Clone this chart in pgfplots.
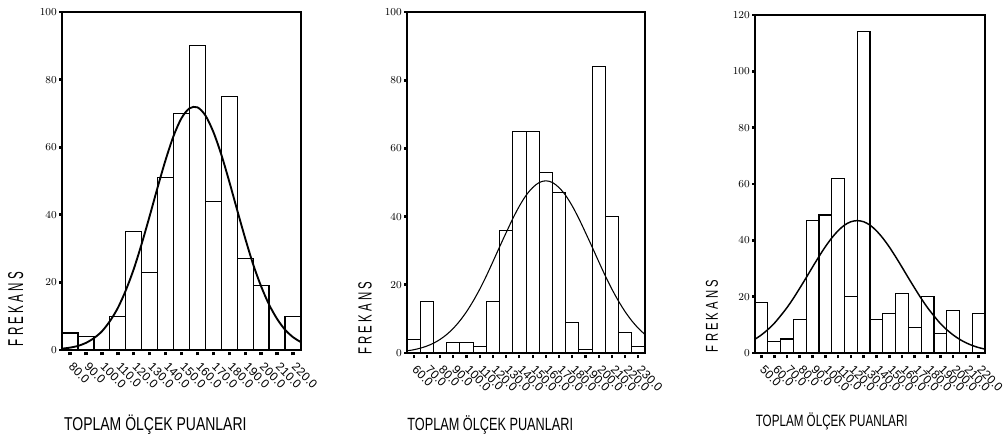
\documentclass[border=0pt]{standalone}
\usepackage{pgfplots}
\pgfplotsset{compat=1.18}
\usepackage{fontspec}
\setmainfont{Liberation Sans}
\usepackage{graphicx}

% one reference pixel = 0.75pt
\pgfplotsset{
  histo/.style={
    scale only axis, anchor=south west,
    ymin=0, tick pos=left, tick align=outside,
    major tick length=2.2pt,
    ytick style={line width=2.2pt, black},
    xtick style={line width=2.6pt, black, yshift=-1.8pt},
    yticklabel style={font=\fontsize{8.5}{8.5}\selectfont, inner sep=1.5pt},
    xticklabel style={font=\fontsize{9}{9}\selectfont, xshift=3pt, yshift=-6.5pt,
      rotate=-45, anchor=north west, inner sep=0pt},
    clip=false,
  },
  bars/.style={ybar, bar width=10, bar shift=0pt, draw=black, fill=none},
}

\begin{document}
\begin{tikzpicture}
\useasboundingbox (0,0) rectangle (753.75pt,327pt);

% ---- panel 1
\begin{axis}[histo,
  at={(46.5pt,64.5pt)}, width=179.25pt, height=253.5pt,
  xmin=75, xmax=225, ymax=100,
  ytick={0,20,40,60,80,100},
  xtick={80,90,...,220},
  xticklabels={80.0,90.0,100.0,110.0,120.0,130.0,140.0,150.0,160.0,170.0,180.0,190.0,200.0,210.0,220.0},
  axis line style={line width=1.3pt},
]
\addplot[bars, line width=1pt] coordinates {
(80,5) (90,4) (100,0) (110,10) (120,35) (130,23) (140,51) (150,70)
(160,90) (170,44) (180,75) (190,27) (200,19) (210,0) (220,10)};
\addplot[black, line width=1.4pt, smooth] coordinates {
(75,0.4) (80,0.7) (85,1.2) (90,2.1) (95,3.5) (100,5.5) (105,8.5) (110,12.4)
(115,17.6) (120,23.9) (125,31.4) (130,39.6) (135,48.1) (140,56.2) (145,63.3)
(150,68.6) (155,71.5) (160,71.8) (165,69.4) (170,64.5) (175,57.8) (180,49.8)
(185,41.3) (190,33.0) (195,25.3) (200,18.8) (205,13.4) (210,9.2) (215,6.0)
(220,3.8) (225,2.3)};
\end{axis}

% ---- panel 2
\begin{axis}[histo,
  at={(305.25pt,62.25pt)}, width=178.5pt, height=255.75pt,
  xmin=55, xmax=235, ymax=100,
  ytick={0,20,40,60,80,100},
  xtick={60,70,...,230},
  xticklabels={60.0,70.0,80.0,90.0,100.0,110.0,120.0,130.0,140.0,150.0,160.0,170.0,180.0,190.0,200.0,210.0,220.0,230.0},
  axis line style={line width=0.9pt},
  xtick style={line width=1.6pt},
]
\addplot[bars, line width=0.75pt] coordinates {
(60,4) (70,15) (80,0) (90,3) (100,3) (110,2) (120,15) (130,36) (140,65)
(150,65) (160,53) (170,47) (180,9) (190,1) (200,84) (210,40) (220,6) (230,2)};
\addplot[black, line width=0.8pt, smooth] coordinates {
(55,0.64) (60,0.95) (65,1.41) (70,2.03) (75,2.87) (80,3.98) (85,5.42) (90,7.23)
(95,9.45) (100,12.1) (105,15.2) (110,18.7) (115,22.6) (120,26.8) (125,31.1)
(130,35.3) (135,39.4) (140,43.1) (145,46.2) (150,48.5) (155,50.0) (160,50.5)
(165,50.0) (170,48.5) (175,46.2) (180,43.1) (185,39.4) (190,35.3) (195,31.1)
(200,26.8) (205,22.6) (210,18.7) (215,15.2) (220,12.1) (225,9.45) (230,7.23)
(235,5.42)};
\end{axis}

% ---- panel 3
\begin{axis}[histo,
  at={(566.25pt,62.25pt)}, width=172.5pt, height=253.5pt,
  xmin=45, xmax=225, ymax=120,
  ytick={0,20,40,60,80,100,120},
  xtick={50,60,...,220},
  xticklabels={50.0,60.0,70.0,80.0,90.0,100.0,110.0,120.0,130.0,140.0,150.0,160.0,170.0,180.0,190.0,200.0,210.0,220.0},
  axis line style={line width=1pt},
  xtick style={line width=2pt},
]
\addplot[bars, line width=0.9pt] coordinates {
(50,18) (60,4) (70,5) (80,12) (90,47) (100,49) (110,62) (120,20) (130,114)
(140,12) (150,14) (160,21) (170,9) (180,20) (190,7) (200,15) (210,0) (220,14)};
\addplot[black, line width=1.1pt, smooth] coordinates {
(45,4.89) (50,6.43) (55,8.30) (60,10.5) (65,13.2) (70,16.1) (75,19.4) (80,23.0)
(85,26.7) (90,30.5) (95,34.2) (100,37.7) (105,40.8) (110,43.4) (115,45.4)
(120,46.6) (125,47.0) (130,46.6) (135,45.4) (140,43.4) (145,40.8) (150,37.7)
(155,34.2) (160,30.5) (165,26.7) (170,23.0) (175,19.4) (180,16.1) (185,13.2)
(190,10.5) (195,8.30) (200,6.43) (205,4.89) (210,3.65) (215,2.68) (220,1.93)
(225,1.37)};
\end{axis}

% ---- axis titles
\node[rotate=90] at (11.85pt,95.25pt) {\resizebox{55.5pt}{11.25pt}{F R E K A N S}};
\node[rotate=90] at (273.75pt,88.3pt) {\resizebox{54.75pt}{10pt}{F R E K A N S}};
\node[rotate=90] at (534pt,90pt) {\resizebox{54pt}{9pt}{F R E K A N S}};

\node[anchor=base, inner sep=0pt] at (116.5pt,4.5pt) {\scalebox{0.752}[1]{\fontsize{13.95pt}{14pt}\selectfont TOPLAM ÖLÇEK PUANLARI}};
\node[anchor=base, inner sep=0pt] at (367.7pt,4.5pt) {\scalebox{0.717}[1]{\fontsize{13.3pt}{14pt}\selectfont TOPLAM ÖLÇEK PUANLARI}};
\node[anchor=base, inner sep=0pt] at (623.8pt,7pt) {\scalebox{0.71}[1]{\fontsize{12.3pt}{13pt}\selectfont TOPLAM ÖLÇEK PUANLARI}};
\end{tikzpicture}
\end{document}
